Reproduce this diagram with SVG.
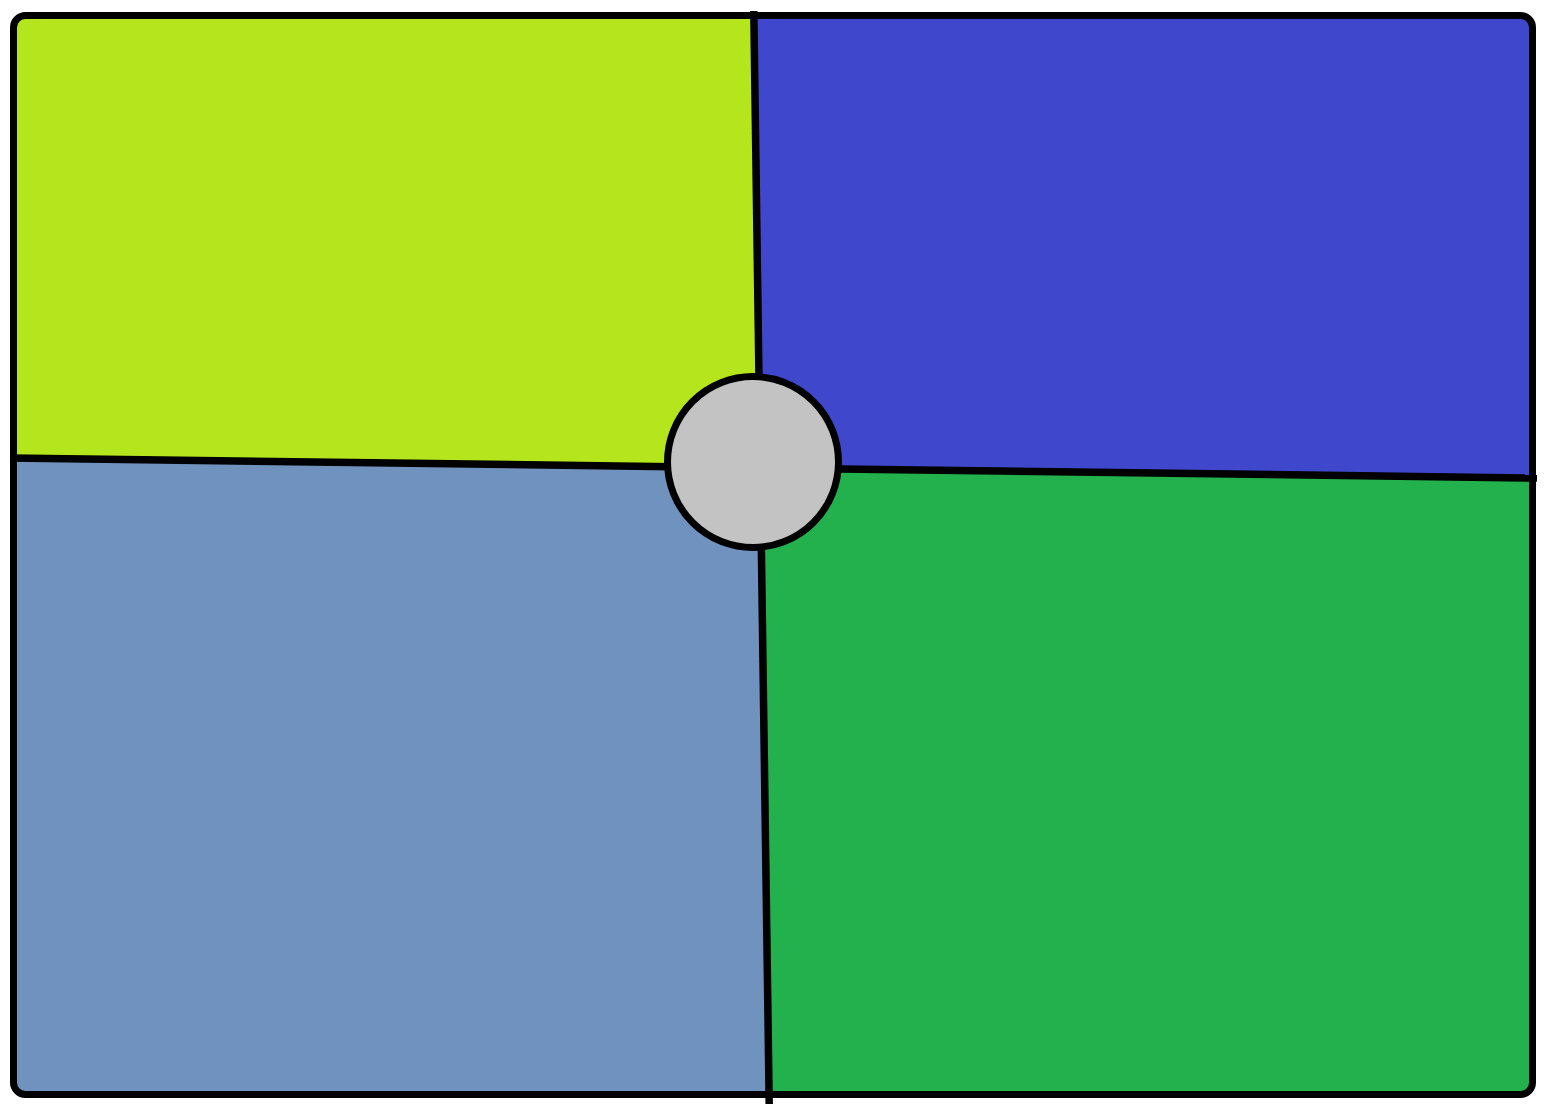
<svg xmlns="http://www.w3.org/2000/svg" width="1545" height="1104" viewBox="0 0 1545 1104">
<style>
.ln{stroke:#000;stroke-width:7.5;fill:none}
.frame{fill:none;stroke:#000;stroke-width:7}
</style>
<defs>
<clipPath id="c"><rect x="13.5" y="15.5" width="1519" height="1079" rx="12"/></clipPath>
</defs>
<rect width="1545" height="1104" fill="#fff"/>
<g clip-path="url(#c)">
<g id="q-tl"><polygon points="0,0 753.8,0 760.2,468 0,457.8" fill="#B5E51D"/></g>
<g id="q-tr"><polygon points="753.8,0 1545,0 1545,478.2 760.2,468" fill="#3F48CC"/></g>
<g id="q-bl"><polygon points="0,457.8 760.2,468 769.1,1104 0,1104" fill="#7092BE"/></g>
<g id="q-br"><polygon points="760.2,468 1545,478.2 1545,1104 769.1,1104" fill="#22B14C"/></g>
</g>
<g id="frame"><rect class="frame" x="13.5" y="15.5" width="1519" height="1079" rx="12"/></g>
<g id="connectors">
<line class="ln" x1="753.8" y1="11" x2="769.2" y2="1104"/>
<line class="ln" x1="10" y1="458" x2="1537" y2="478.1"/>
</g>
<g id="center"><circle cx="753" cy="462" r="85.5" fill="#C3C3C3" stroke="#000" stroke-width="7"/></g>
</svg>
